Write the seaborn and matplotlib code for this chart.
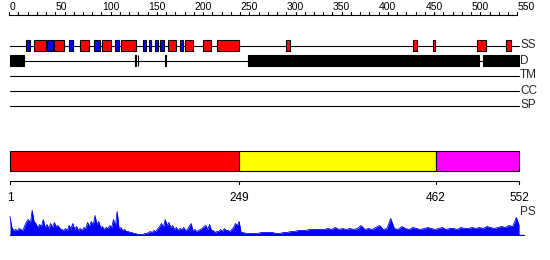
import numpy as np
import pandas as pd
import matplotlib
matplotlib.use("Agg")
import matplotlib.pyplot as plt
import matplotlib.font_manager as fm
from matplotlib.patches import Rectangle
import seaborn as sns

# ---------------- data ----------------
seq_len = 552
ruler_ticks = list(range(0, 551, 10))
ruler_labels = list(range(0, 551, 50))

ss_helix_start = [18, 41, 65, 92, 115, 145, 151, 158, 163, 185]
ss_helix_end = [23, 47, 69, 98, 119, 148, 154, 161, 168, 188]
ss_strand_start = [27, 49, 77, 101, 121, 172, 190, 210, 225, 300, 437, 459, 506, 538]
ss_strand_end = [40, 59, 87, 110, 137, 181, 199, 218, 249, 304, 442, 461, 516, 543]

dis_start = [1, 136, 139, 169, 259, 513]
dis_end = [16, 137, 140, 170, 509, 552]

row_names = ["SS", "D", "TM", "CC", "SP"]

dom_start = [1, 249, 462]
dom_end = [249, 462, 552]
dom_colors = ["#ff0000", "#ffff00", "#ff00ff"]
dom_ticks = [1, 249, 462, 552]

ps_pos = list(range(1, 250, 2)) + [251] + list(range(253, 550, 4)) + [552]
ps_val = [19, 8, 5, 6, 5, 7, 6, 5, 10, 14, 16, 12, 25, 14, 12, 8, 11, 9, 16, 8,
          11, 7, 12, 8, 13, 9, 10, 7, 6, 5, 7, 5, 10, 7, 12, 6, 9, 5, 7, 5,
          8, 7, 13, 9, 14, 10, 20, 11, 14, 8, 9, 6, 8, 7, 10, 8, 16, 9, 24, 7,
          8, 5, 6, 4, 4, 3, 3, 2, 2, 1, 1, 1, 1, 2, 2, 3, 4, 3, 5, 4,
          7, 9, 12, 8, 16, 10, 13, 8, 10, 6, 8, 5, 7, 6, 8, 5, 6, 9, 12, 5,
          6, 4, 5, 6, 7, 9, 10, 6, 11, 5, 5, 3, 4, 4, 6, 4, 7, 5, 5, 4,
          6, 8, 12, 10, 14,
          3,
          3, 2, 2, 2, 2, 3, 3, 3, 3, 2, 2, 3, 3, 4, 4, 5, 5,
          5, 6, 6, 6, 6, 6, 7, 6, 8, 6, 7, 6, 7, 6, 7, 10, 6, 7, 6, 8,
          10, 6, 7, 17, 7, 6, 9, 7, 6, 8, 7, 6, 7, 8, 7, 6, 7, 8, 6, 7,
          7, 6, 8, 7, 7, 8, 7, 8, 7, 9, 8, 7, 8, 9, 8, 10, 9, 18, 10]

# ---------------- style ----------------
sns.set_style("white")
names = {f.name for f in fm.fontManager.ttflist}
narrow = "Liberation Sans Narrow" if "Liberation Sans Narrow" in names else "Liberation Sans"
plt.rcParams["font.family"] = ["Liberation Sans", "DejaVu Sans"]

W, H = 550, 260
fig = plt.figure(figsize=(W / 100, H / 100), dpi=100)
px = 0.924  # pixels per residue
x_lo = 1 - 10 / px
x_hi = 1 + 540 / px

ax = fig.add_axes([0, 0, 1, 1])
ax.set_xlim(x_lo, x_hi)
ax.set_ylim(H, 0)
ax.axis("off")

lw = 0.8

# ruler
ax.plot([0, 550], [15, 15], color="black", lw=lw)
for t in ruler_ticks:
    ax.plot([t, t], [12.3, 15], color="black", lw=lw)
for t in ruler_labels:
    ax.text(t + 0.5, 10.5, str(t), ha="left", va="baseline", fontsize=7.5, color="black")

# feature rows
row_y = [45.5, 60.5, 75.5, 90.5, 105.5]
row_df = pd.DataFrame({"x": [1, 552] * len(row_names),
                       "y": [y for y in row_y for _ in range(2)],
                       "row": [r for r in row_names for _ in range(2)]})
for r, y in zip(row_names, row_y):
    sub = row_df[row_df["row"] == r]
    sns.lineplot(data=sub, x="x", y="y", ax=ax, color="black", lw=lw, legend=False)
    ax.text(553, y, r, ha="left", va="center", fontsize=8.5, family=[narrow, "DejaVu Sans"])

box_h = 10.5
for s, e in zip(ss_helix_start, ss_helix_end):
    ax.add_patch(Rectangle((s, row_y[0] - box_h / 2), e - s, box_h, facecolor="#0000ff",
                           edgecolor="black", lw=lw, zorder=3))
for s, e in zip(ss_strand_start, ss_strand_end):
    ax.add_patch(Rectangle((s, row_y[0] - box_h / 2), e - s, box_h, facecolor="#ff0000",
                           edgecolor="black", lw=lw, zorder=3))
for s, e in zip(dis_start, dis_end):
    ax.add_patch(Rectangle((s, row_y[1] - box_h / 2), e - s, box_h, facecolor="black",
                           edgecolor="black", lw=lw, zorder=3))

# domains
for s, e, c in zip(dom_start, dom_end, dom_colors):
    ax.add_patch(Rectangle((s, 150.5), e - s, 20, facecolor=c, edgecolor="black", lw=lw, zorder=3))

ax.plot([1, 552], [180.5, 180.5], color="black", lw=lw)
for t in dom_ticks:
    ax.plot([t, t], [180.5, 184], color="black", lw=lw)
    ax.text(t, 201, str(t), ha="center", va="baseline", fontsize=8.5, color="black")

ax.text(553, 215, "PS", ha="left", va="baseline", fontsize=8.5, family=[narrow, "DejaVu Sans"])

# PS profile
ax2 = fig.add_axes([0, (H - 235.5) / H, 1, 26 / H])
ax2.set_xlim(x_lo, x_hi)
ax2.set_ylim(0, 26)
ax2.axis("off")
ps_df = pd.DataFrame({"pos": ps_pos, "score": ps_val})
ax2.fill_between(ps_df["pos"], 0, ps_df["score"], color="#0000ff", lw=0)
sns.lineplot(data=ps_df, x="pos", y="score", ax=ax2, color="#0000ff", lw=0.6)
ax2.plot([1, 557], [0.3, 0.3], color="#0000ff", lw=1)

fig.savefig("out.png", dpi=100)
